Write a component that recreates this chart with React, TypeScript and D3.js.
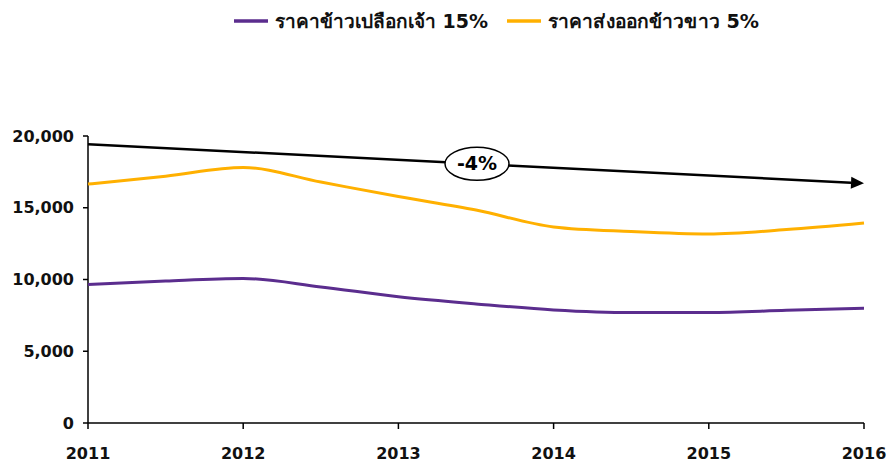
import React from 'react';
import * as d3 from 'd3';

// Half-year readings (Baht/ton)
const years = [2011, 2011.5, 2012, 2012.5, 2013, 2013.5, 2014, 2014.5, 2015, 2015.5, 2016];
const paddyPrice = [9660, 9900, 10070, 9480, 8800, 8300, 7880, 7700, 7700, 7850, 8000];
const exportPrice = [16650, 17200, 17800, 16790, 15780, 14840, 13660, 13340, 13170, 13480, 13940];
const trendYears = [2011, 2016];
const trendValues = [19430, 16700];
const xTicks = [2011, 2012, 2013, 2014, 2015, 2016];
const yTicks = [0, 5000, 10000, 15000, 20000];
const seriesNames = ['ราคาข้าวเปลือกเจ้า 15%', 'ราคาส่งออกข้าวขาว 5%'];
const trendLabel = '-4%';

const PURPLE = '#5b2d8e';
const ORANGE = '#ffb000';
const FONT = "Tahoma, 'DejaVu Sans', sans-serif";

const App: React.FC = () => {
  const width = 888;
  const height = 464;
  const margin = { left: 88, right: 24, top: 136, bottom: 41 };

  const x = d3.scaleLinear().domain([2011, 2016]).range([margin.left, width - margin.right]);
  const y = d3.scaleLinear().domain([0, 20000]).range([height - margin.bottom, margin.top]);

  const line = d3.line<number>()
    .x((_, i) => x(years[i]))
    .y(d => y(d))
    .curve(d3.curveMonotoneX);

  const fmt = d3.format(',');

  const tx0 = x(trendYears[0]), ty0 = y(trendValues[0]);
  const tx1 = x(trendYears[1]), ty1 = y(trendValues[1]);
  const ang = Math.atan2(ty1 - ty0, tx1 - tx0);
  const head = 13;
  const hx = tx1 - head * Math.cos(ang), hy = ty1 - head * Math.sin(ang);
  const px = Math.sin(ang) * 6, py = -Math.cos(ang) * 6;

  // ellipse label sits on the trend line
  const lx = 477;
  const ly = ty0 + (ty1 - ty0) * (lx - tx0) / (tx1 - tx0);

  const legendY = 21;
  const legend = [
    { name: seriesNames[0], color: PURPLE, x: 234 },
    { name: seriesNames[1], color: ORANGE, x: 507 },
  ];

  return (
    <svg width={width} height={height} style={{ position: 'absolute', left: 0, top: 0, background: '#fff' }}
      fontFamily={FONT}>
      {legend.map(l => (
        <g key={l.name}>
          <line x1={l.x} x2={l.x + 34} y1={legendY} y2={legendY} stroke={l.color} strokeWidth={3.5} />
          <text x={l.x + 41} y={legendY} dy="0.35em" fontSize={19} fontWeight="bold" fill="#111"
            textLength={l.x === 234 ? 213 : 211} lengthAdjust="spacingAndGlyphs">{l.name}</text>
        </g>
      ))}

      {/* axes */}
      <line x1={x(2011)} x2={x(2011)} y1={y(20000)} y2={y(0)} stroke="#000" strokeWidth={1.5} />
      <line x1={x(2011)} x2={x(2016)} y1={y(0)} y2={y(0)} stroke="#000" strokeWidth={1.5} />
      {yTicks.map(t => (
        <g key={t}>
          <line x1={x(2011) - 5} x2={x(2011)} y1={y(t)} y2={y(t)} stroke="#000" strokeWidth={1.5} />
          <text x={74} y={y(t)} dy="0.35em" textAnchor="end" fontSize={16} fontWeight="bold" fill="#111">{fmt(t)}</text>
        </g>
      ))}
      {xTicks.map(t => (
        <g key={t}>
          <line x1={x(t)} x2={x(t)} y1={y(0)} y2={y(0) + 6} stroke="#000" strokeWidth={1.5} />
          <text x={x(t)} y={453} dy="0.35em" textAnchor="middle" fontSize={16} fontWeight="bold" fill="#111">{t}</text>
        </g>
      ))}

      {/* series */}
      <path d={line(exportPrice) || ''} fill="none" stroke={ORANGE} strokeWidth={3} />
      <path d={line(paddyPrice) || ''} fill="none" stroke={PURPLE} strokeWidth={3} />

      {/* trend arrow */}
      <line x1={tx0} y1={ty0} x2={hx} y2={hy} stroke="#000" strokeWidth={2.5} />
      <polygon points={`${tx1},${ty1} ${hx + px},${hy + py} ${hx - px},${hy - py}`} fill="#000" />
      <ellipse cx={lx} cy={ly} rx={32} ry={16.5} fill="#fff" stroke="#000" strokeWidth={1.5} />
      <text x={lx} y={ly} dy="0.35em" textAnchor="middle" fontSize={19} fontWeight="bold" fill="#000">{trendLabel}</text>
    </svg>
  );
};

export default App;
